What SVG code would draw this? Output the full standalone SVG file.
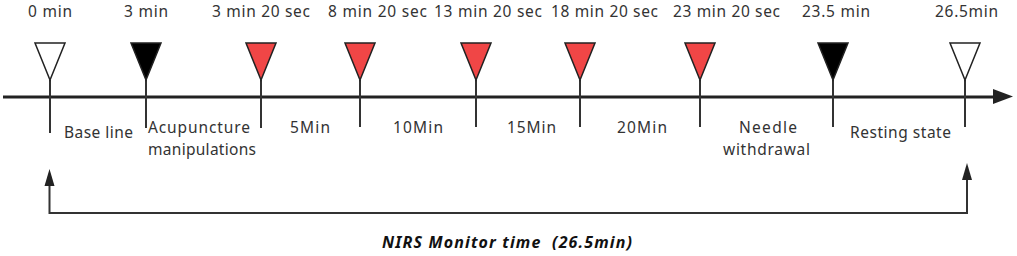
<svg xmlns="http://www.w3.org/2000/svg" width="1017" height="256" viewBox="0 0 1017 256">
<defs>
<style>
.lbl{font-family:"Noto Sans","Open Sans",sans-serif;font-size:15.5px;fill:#333}
.tick{stroke:#333;stroke-width:2;fill:none}
.tri{stroke:#222;stroke-width:1.5;stroke-linejoin:miter}
.w{fill:#fff}.b{fill:#000}.r{fill:#f04646}
.conn{stroke:#333;stroke-width:2;fill:none}
.ttl{font-family:"Noto Sans","Open Sans",sans-serif;font-size:16px;font-weight:bold;font-style:italic;fill:#111}
</style>
</defs>
<rect width="1017" height="256" fill="#fff"/>
<g id="connectors">
<line x1="3" y1="97" x2="994" y2="97" stroke="#222" stroke-width="3"/>
<path d="M993,89 L1013,96.5 L993,104 Z" fill="#222"/>
<path class="conn" d="M49.5,184 V213 H967 V178"/>
<path d="M44.5,186 L49.5,169 L54.5,186 Z" fill="#222"/>
<path d="M962,180 L967,163 L972,180 Z" fill="#222"/>
</g>
<g id="t0"><line class="tick" x1="50" y1="80" x2="50" y2="133"/><path class="tri w" d="M35,43 H65 L50,80 Z"/><text class="lbl" x="28" y="17" textLength="44" lengthAdjust="spacing">0 min</text></g>
<g id="t3"><line class="tick" x1="146" y1="80" x2="146" y2="128"/><path class="tri b" d="M131,43 H161 L146,80 Z"/><text class="lbl" x="124" y="17" textLength="44" lengthAdjust="spacing">3 min</text></g>
<g id="t320"><line class="tick" x1="261" y1="80" x2="261" y2="128"/><path class="tri r" d="M246,43 H276 L261,80 Z"/><text class="lbl" x="212" y="17" textLength="98" lengthAdjust="spacing">3 min 20 sec</text></g>
<g id="t820"><line class="tick" x1="360" y1="80" x2="360" y2="127"/><path class="tri r" d="M345,43 H375 L360,80 Z"/><text class="lbl" x="328" y="17" textLength="99" lengthAdjust="spacing">8 min 20 sec</text></g>
<g id="t1320"><line class="tick" x1="476" y1="80" x2="476" y2="127"/><path class="tri r" d="M461,43 H491 L476,80 Z"/><text class="lbl" x="434" y="17" textLength="108" lengthAdjust="spacing">13 min 20 sec</text></g>
<g id="t1820"><line class="tick" x1="580" y1="80" x2="580" y2="127"/><path class="tri r" d="M565,43 H595 L580,80 Z"/><text class="lbl" x="551" y="17" textLength="107" lengthAdjust="spacing">18 min 20 sec</text></g>
<g id="t2320"><line class="tick" x1="700" y1="80" x2="700" y2="127"/><path class="tri r" d="M685,43 H715 L700,80 Z"/><text class="lbl" x="673" y="17" textLength="107" lengthAdjust="spacing">23 min 20 sec</text></g>
<g id="t235"><line class="tick" x1="833" y1="80" x2="833" y2="127"/><path class="tri b" d="M818,43 H848 L833,80 Z"/><text class="lbl" x="802" y="17" textLength="68" lengthAdjust="spacing">23.5 min</text></g>
<g id="t265"><line class="tick" x1="965" y1="80" x2="965" y2="127"/><path class="tri w" d="M950,43 H980 L965,80 Z"/><text class="lbl" x="935" y="17" textLength="63" lengthAdjust="spacing">26.5min</text></g>
<g id="phases">
<text class="lbl" x="64" y="138" textLength="69" lengthAdjust="spacing">Base line</text>
<text class="lbl" x="148" y="133" textLength="102" lengthAdjust="spacing">Acupuncture</text>
<text class="lbl" x="148" y="155" textLength="108" lengthAdjust="spacing">manipulations</text>
<text class="lbl" x="290" y="133" textLength="40" lengthAdjust="spacing">5Min</text>
<text class="lbl" x="393" y="133" textLength="50" lengthAdjust="spacing">10Min</text>
<text class="lbl" x="507" y="133" textLength="49" lengthAdjust="spacing">15Min</text>
<text class="lbl" x="617" y="133" textLength="50" lengthAdjust="spacing">20Min</text>
<text class="lbl" x="739" y="133" textLength="58" lengthAdjust="spacing">Needle</text>
<text class="lbl" x="723" y="155" textLength="87" lengthAdjust="spacing">withdrawal</text>
<text class="lbl" x="850" y="138" textLength="101" lengthAdjust="spacing">Resting state</text>
</g>
<g id="title"><text class="ttl" x="382" y="248" xml:space="preserve" textLength="250" lengthAdjust="spacing">NIRS Monitor time  (26.5min)</text></g>
</svg>
